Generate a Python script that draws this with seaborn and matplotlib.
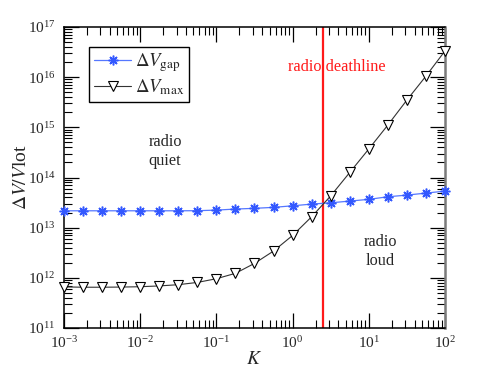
import numpy as np
import pandas as pd
import matplotlib
matplotlib.use('Agg')
import matplotlib.pyplot as plt
import matplotlib.ticker as mticker
import seaborn as sns

# K grid (log10 exponents) and the two curves
k_exponents = [-3.0, -2.75, -2.5, -2.25, -2.0, -1.75, -1.5, -1.25, -1.0, -0.75,
               -0.5, -0.25, 0.0, 0.25, 0.5, 0.75, 1.0, 1.25, 1.5, 1.75, 2.0]
dv_gap = [2.17e13, 2.17e13, 2.17e13, 2.17e13, 2.17e13, 2.17e13, 2.17e13, 2.18e13,
          2.24e13, 2.35e13, 2.43e13, 2.54e13, 2.73e13, 2.95e13, 3.13e13, 3.39e13,
          3.67e13, 4.13e13, 4.46e13, 4.89e13, 5.36e13]
dv_max = [6.6e11, 6.5e11, 6.5e11, 6.55e11, 6.65e11, 6.9e11, 7.3e11, 8.1e11,
          9.6e11, 1.23e12, 1.94e12, 3.42e12, 7.0e12, 1.65e13, 4.3e13, 1.26e14,
          3.7e14, 1.11e15, 3.5e15, 1.05e16, 3.34e16]
deathline_k = 2.5

df = pd.DataFrame({
    'K': 10.0 ** np.array(k_exponents),
    'gap': dv_gap,
    'max': dv_max,
})

sns.set_style('ticks')
plt.rcParams['font.family'] = ['Liberation Serif', 'DejaVu Serif']
plt.rcParams['mathtext.fontset'] = 'stix'

fig = plt.figure(figsize=(4.91, 3.69), dpi=100)
ax = fig.add_axes([0.1303, 0.1111, 0.7760, 0.8157])

sns.lineplot(data=df, x='K', y='gap', ax=ax, color='#5577ff', lw=0.9,
             marker=(8, 2, 0), ms=7, mew=1.1, mec='#3358ff',
             label=r'$\Delta V_{\mathrm{gap}}$', clip_on=False, zorder=3)
sns.lineplot(data=df, x='K', y='max', ax=ax, color='#333333', lw=0.8,
             marker='v', ms=6.5, mfc='white', mec='black', mew=0.8,
             label=r'$\Delta V_{\mathrm{max}}$', clip_on=False, zorder=3)

ax.axvline(deathline_k, color='#ff1a1a', lw=1.6, zorder=2)

ax.set_xscale('log')
ax.set_yscale('log')
ax.set_xlim(1e-3, 1e2)
ax.set_ylim(1e11, 1e17)

ax.xaxis.set_major_locator(mticker.LogLocator(base=10, numticks=10))
ax.xaxis.set_minor_locator(mticker.LogLocator(base=10, subs=np.arange(2, 10), numticks=10))
ax.yaxis.set_major_locator(mticker.LogLocator(base=10, numticks=10))
ax.yaxis.set_minor_locator(mticker.LogLocator(base=10, subs=np.arange(2, 10), numticks=10))
ax.xaxis.set_minor_formatter(mticker.NullFormatter())
ax.yaxis.set_minor_formatter(mticker.NullFormatter())

ax.tick_params(which='both', direction='in', top=True, right=True, labelsize=11, color='black')
ax.tick_params(which='major', length=11, width=0.9)
ax.tick_params(which='minor', length=6, width=0.8)
ax.tick_params(axis='x', pad=5)
ax.tick_params(axis='y', pad=6)

for side in ['left', 'top', 'bottom']:
    ax.spines[side].set_color('black')
    ax.spines[side].set_linewidth(1.1)
ax.spines['right'].set_color('#7a7a7a')
ax.spines['right'].set_linewidth(1.8)

ax.set_xlabel(r'$K$', fontsize=14, labelpad=0)
ax.set_ylabel(r'$\Delta V/V$lot', fontsize=14)
ax.yaxis.set_label_coords(-0.09, 0.5)

ax.text(0.716, 0.867, 'radio deathline', color='#ff1a1a', fontsize=11.7,
        ha='center', va='center', transform=ax.transAxes, zorder=4)
ax.text(0.265, 0.585, 'radio\nquiet', fontsize=11.7, ha='center', va='center',
        transform=ax.transAxes, linespacing=1.25)
ax.text(0.831, 0.255, 'radio\nloud', fontsize=11.7, ha='center', va='center',
        transform=ax.transAxes, linespacing=1.25)

leg = ax.legend(loc='upper left', bbox_to_anchor=(0.066, 0.934), borderaxespad=0,
                fontsize=13.5, frameon=True, fancybox=False, framealpha=1,
                edgecolor='black', handlelength=2.0, handletextpad=0.2,
                borderpad=0.25, labelspacing=0.15)
leg.get_frame().set_linewidth(1.0)

fig.savefig('out.png', dpi=100)
